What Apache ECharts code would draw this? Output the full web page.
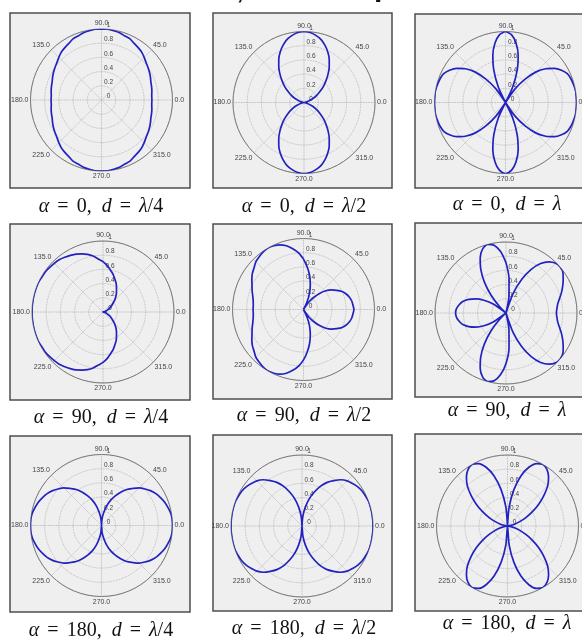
<!DOCTYPE html>
<html>
<head>
<meta charset="utf-8">
<script src="https://cdn.jsdelivr.net/npm/echarts@6/dist/echarts.min.js"></script>
<style>
  html, body { margin: 0; padding: 0; background: #ffffff; }
  #chart { width: 582px; height: 642px; }
</style>
</head>
<body>
<div id="chart"></div>
<script>
// Observation angles (degrees) over the upper half-plane; each pattern is
// symmetric about the 0°–180° array axis, so the lower half mirrors it.
const halfAngles = [0, 5, 10, 15, 20, 25, 30, 35, 40, 45, 50, 55, 60, 65, 70, 75, 80, 85, 90,
  95, 100, 105, 110, 115, 120, 125, 130, 135, 140, 145, 150, 155, 160, 165, 170, 175, 180];

// Normalised array-factor magnitude |AF| at each of halfAngles
const af_a0_dq = [0.71, 0.71, 0.72, 0.73, 0.74, 0.76, 0.78, 0.80, 0.82, 0.85, 0.88, 0.90, 0.92, 0.95, 0.96, 0.98, 0.99, 1.00, 1.00,
  1.00, 0.99, 0.98, 0.96, 0.95, 0.92, 0.90, 0.88, 0.85, 0.82, 0.80, 0.78, 0.76, 0.74, 0.73, 0.72, 0.71, 0.71];
const af_a0_dh = [0, 0.01, 0.02, 0.05, 0.09, 0.15, 0.21, 0.28, 0.36, 0.44, 0.53, 0.62, 0.71, 0.79, 0.86, 0.92, 0.96, 0.99, 1.00,
  0.99, 0.96, 0.92, 0.86, 0.79, 0.71, 0.62, 0.53, 0.44, 0.36, 0.28, 0.21, 0.15, 0.09, 0.05, 0.02, 0.01, 0];
const af_a0_d1 = [1.00, 1.00, 1.00, 0.99, 0.98, 0.96, 0.91, 0.84, 0.74, 0.61, 0.43, 0.23, 0, 0.24, 0.48, 0.69, 0.85, 0.96, 1.00,
  0.96, 0.85, 0.69, 0.48, 0.24, 0, 0.23, 0.43, 0.61, 0.74, 0.84, 0.91, 0.96, 0.98, 0.99, 1.00, 1.00, 1.00];
const af_a90_dq = [0, 0, 0.01, 0.03, 0.05, 0.07, 0.11, 0.14, 0.18, 0.23, 0.28, 0.33, 0.38, 0.44, 0.49, 0.55, 0.60, 0.66, 0.71,
  0.75, 0.80, 0.84, 0.87, 0.90, 0.92, 0.94, 0.96, 0.97, 0.98, 0.99, 0.99, 1.00, 1.00, 1.00, 1.00, 1.00, 1.00];
const af_a90_dh = [0.71, 0.70, 0.69, 0.67, 0.64, 0.60, 0.54, 0.48, 0.41, 0.32, 0.22, 0.12, 0, 0.12, 0.25, 0.37, 0.49, 0.60, 0.71,
  0.80, 0.87, 0.93, 0.97, 0.99, 1.00, 0.99, 0.97, 0.95, 0.91, 0.88, 0.84, 0.80, 0.77, 0.74, 0.72, 0.71, 0.71];
const af_a90_d1 = [0.71, 0.72, 0.74, 0.78, 0.83, 0.88, 0.93, 0.98, 1.00, 0.99, 0.94, 0.85, 0.71, 0.52, 0.29, 0, 0.24, 0.49, 0.71,
  0.87, 0.97, 1.00, 0.96, 0.86, 0.71, 0.53, 0.33, 0.13, 0, 0.22, 0.36, 0.47, 0.56, 0.63, 0.67, 0.70, 0.71];
const af_a180_dq = [1.00, 1.00, 0.99, 0.97, 0.95, 0.92, 0.89, 0.85, 0.80, 0.75, 0.68, 0.62, 0.54, 0.46, 0.38, 0.29, 0.19, 0.10, 0,
  0.10, 0.19, 0.29, 0.38, 0.46, 0.54, 0.62, 0.68, 0.75, 0.80, 0.85, 0.89, 0.92, 0.95, 0.97, 0.99, 1.00, 1.00];
const af_a180_dh = [1.00, 1.00, 1.00, 1.00, 1.00, 0.99, 0.98, 0.96, 0.93, 0.90, 0.85, 0.78, 0.71, 0.62, 0.51, 0.40, 0.27, 0.14, 0,
  0.14, 0.27, 0.40, 0.51, 0.62, 0.71, 0.78, 0.85, 0.90, 0.93, 0.96, 0.98, 0.99, 1.00, 1.00, 1.00, 1.00, 1.00];
const af_a180_d1 = [0, 0.01, 0.05, 0.11, 0.19, 0.29, 0.41, 0.54, 0.67, 0.80, 0.90, 0.97, 1.00, 0.97, 0.88, 0.73, 0.52, 0.27, 0,
  0.27, 0.52, 0.73, 0.88, 0.97, 1.00, 0.97, 0.90, 0.80, 0.67, 0.54, 0.41, 0.29, 0.19, 0.11, 0.05, 0.01, 0];

// Caption parts: progressive phase α (degrees) and element spacing d
const alphaLabels = ['0', '0', '0', '90', '90', '90', '180', '180', '180'];
const spacingLabels = ['{i|λ}/4', '{i|λ}/2', '{i|λ}', '{i|λ}/4', '{i|λ}/2', '{i|λ}', '{i|λ}/4', '{i|λ}/2', '{i|λ}'];
const patterns = [af_a0_dq, af_a0_dh, af_a0_d1, af_a90_dq, af_a90_dh, af_a90_d1, af_a180_dq, af_a180_dh, af_a180_d1];

// Axis ticks
const radiusTicks = { min: 0, max: 1, interval: 0.2 };
const angleTickStep = 45;

// Panel layout: frame box, polar centre, caption anchor
const panels = [
  { fx: 10,  fy: 13,  fw: 180, fh: 175, cx: 101.5, cy: 100,   tx: 101, ty: 207 },
  { fx: 213, fy: 13,  fw: 179, fh: 175, cx: 304,   cy: 102.5, tx: 304, ty: 207 },
  { fx: 415, fy: 14,  fw: 185, fh: 174, cx: 505.5, cy: 102.5, tx: 507, ty: 205 },
  { fx: 10,  fy: 224, fw: 180, fh: 176, cx: 103,   cy: 312,   tx: 101, ty: 418 },
  { fx: 213, fy: 224, fw: 179, fh: 175, cx: 303.5, cy: 309.5, tx: 304, ty: 416 },
  { fx: 415, fy: 223, fw: 185, fh: 174, cx: 506,   cy: 313,   tx: 507, ty: 411 },
  { fx: 10,  fy: 436, fw: 180, fh: 176, cx: 101.5, cy: 525.5, tx: 101, ty: 631 },
  { fx: 213, fy: 435, fw: 179, fh: 176, cx: 302,   cy: 526,   tx: 304, ty: 629 },
  { fx: 415, fy: 434, fw: 185, fh: 177, cx: 507.5, cy: 526,   tx: 507, ty: 624 }
];
const polarRadius = 71;

// Closed loop of [radius, angle] points; angles run 90° → 450° so the
// radius axis (drawn at the start angle) points straight up.
function loopData(half) {
  const pts = [];
  for (let deg = 90; deg <= 450; deg += 5) {
    const m = deg % 360;
    const idx = halfAngles.indexOf(m <= 180 ? m : 360 - m);
    pts.push([half[idx], deg]);
  }
  return pts;
}

const gridLine = { type: 'dotted', color: '#a8a8a8', width: 0.8 };
const labelFont = 'Liberation Sans';
const captionFont = 'Liberation Serif';
const captionSize = 20;

// Captions: italic variables, upright numerals, widened relation signs
function captionText(i) {
  return '{i|α}{e|=}' + alphaLabels[i] + ',  {i|d}{e|=}' + spacingLabels[i];
}

const option = {
  animation: false,
  backgroundColor: '#ffffff',
  polar: panels.map(p => ({ center: [p.cx, p.cy], radius: polarRadius })),
  angleAxis: panels.map((p, i) => ({
    polarIndex: i,
    type: 'value',
    min: 90,
    max: 450,
    interval: angleTickStep,
    startAngle: 90,
    clockwise: false,
    axisLine: { lineStyle: { color: '#7a7a7a', width: 1 } },
    axisTick: { show: false },
    axisLabel: {
      margin: 2,
      fontSize: 7,
      color: '#444',
      fontFamily: labelFont,
      formatter: v => (v % 360).toFixed(1)
    },
    splitLine: { lineStyle: gridLine }
  })),
  radiusAxis: panels.map((p, i) => ({
    polarIndex: i,
    type: 'value',
    min: radiusTicks.min,
    max: radiusTicks.max,
    interval: radiusTicks.interval,
    axisLine: { show: false },
    axisTick: { show: false },
    axisLabel: {
      margin: -7,
      align: 'center',
      verticalAlign: 'bottom',
      fontSize: 6.5,
      color: '#444',
      fontFamily: labelFont,
      formatter: v => String(Math.round(v * 10) / 10)
    },
    splitLine: { lineStyle: gridLine }
  })),
  graphic: panels.map(p => ({
    type: 'rect',
    z: -10,
    shape: { x: p.fx, y: p.fy, width: p.fw, height: p.fh },
    style: { fill: '#efefef', stroke: '#4d4d4d', lineWidth: 1.5 }
  })).concat(panels.map((p, i) => ({
    type: 'text',
    x: p.tx,
    y: p.ty,
    style: {
      text: captionText(i),
      align: 'center',
      verticalAlign: 'middle',
      fill: '#111',
      font: captionSize + 'px "' + captionFont + '"',
      rich: {
        i: { fontStyle: 'italic', fontSize: captionSize, fontFamily: captionFont, fill: '#111' },
        e: { fontSize: captionSize, fontFamily: captionFont, fill: '#111', padding: [0, 8] }
      }
    }
  }))).concat([
    // Lower edges of the heading line above the panels
    { type: 'text', x: 240, y: 4.5, style: { text: ',', align: 'center', verticalAlign: 'bottom', fill: '#111', font: 'bold 24px "Liberation Sans"' } },
    { type: 'text', x: 374, y: 2.5, style: { text: 'p', align: 'left', verticalAlign: 'bottom', fill: '#111', font: 'bold 30px "Liberation Sans"' } }
  ]),
  series: patterns.map((half, i) => ({
    type: 'line',
    coordinateSystem: 'polar',
    polarIndex: i,
    data: loopData(half),
    showSymbol: false,
    smooth: 0.25,
    lineStyle: { color: '#2222c0', width: 1.7 },
    z: 5
  }))
};

const chart = echarts.init(document.getElementById('chart'), null, { renderer: 'canvas' });
chart.setOption(option);
</script>
</body>
</html>
